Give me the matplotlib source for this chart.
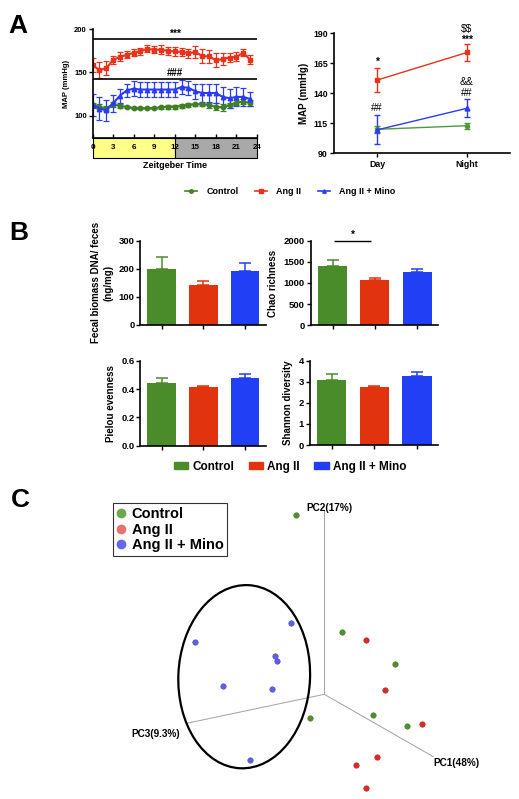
import matplotlib
matplotlib.use('Agg')
import matplotlib.pyplot as plt
from matplotlib.patches import Rectangle, Ellipse, Patch
from matplotlib.lines import Line2D
from matplotlib.transforms import blended_transform_factory

plt.rcParams['font.family'] = ['Liberation Sans', 'DejaVu Sans']
plt.rcParams['font.weight'] = 'bold'
plt.rcParams['axes.labelweight'] = 'bold'
plt.rcParams['axes.linewidth'] = 1.2

# colours
GREEN = '#3f7f25'
RED = '#e8321a'
BLUE = '#2a3cf5'
BAR_GREEN = '#4a8c2a'
BAR_RED = '#e2330f'
BAR_BLUE = '#2140f6'

groups = ['Control', 'Ang II', 'Ang II + Mino']

# ---- panel A, 24 h telemetry ----
hours = list(range(24))
ctrl_ts = [112, 110, 108, 113, 111, 110, 108.5, 108.5, 108.5, 108.5, 109.5, 110,
           110, 111, 112, 113, 113, 112, 110, 109.5, 112, 115, 116, 114.5]
ctrl_ts_err = [3, 3, 3, 3, 2, 1.5, 1.5, 1.5, 1.5, 1.5, 2, 2, 2, 2, 2, 2, 2, 3, 4, 4, 3, 3, 3, 3]
ang_ts = [158.5, 152.5, 154.7, 164, 168, 170, 172.5, 174.3, 177, 176, 176, 174.7,
          174, 173.6, 171.7, 173.6, 168.7, 168.3, 164, 165, 167, 168, 172.5, 164.5]
ang_ts_err = [8, 9, 8, 5, 5, 4, 4, 4, 4, 4, 5, 5, 5, 5, 5, 7, 8, 8, 8, 7, 5, 5, 4, 5]
mino_ts = [112, 108, 106, 114, 123, 129, 131, 130, 130, 130, 130, 130,
           130, 133, 132, 128, 126, 126, 126, 121.5, 120, 121.5, 121.5, 119]
mino_ts_err = [13, 13, 12, 10, 8, 8, 9, 9, 9, 9, 9, 9, 9, 8, 8, 9, 10, 10, 11, 12, 11, 11, 10, 8]

# ---- panel A, day / night ----
periods = ['Day', 'Night']
ctrl_dn = [110, 113]
ctrl_dn_err = [3, 2.5]
ang_dn = [151, 174]
ang_dn_err = [10, 7]
mino_dn = [109.5, 127.5]
mino_dn_err = [12, 7.5]

# ---- panel B ----
biomass = [200, 142, 190]
biomass_err = [40, 15, 29]
chao = [1410, 1070, 1270]
chao_err = [130, 40, 50]
pielou = [0.447, 0.415, 0.483]
pielou_err = [0.035, 0.006, 0.025]
shannon = [3.1, 2.77, 3.29]
shannon_err = [0.28, 0.04, 0.19]

# ---- panel C, PCoA points projected on the page ----
pc_ctrl_x = [-28.6, 18, 70.4, 48.7, 82.4, -14.3]
pc_ctrl_y = [179, 62, 30.6, -20.4, -31.4, -23.4]
pc_ang_x = [41.4, 60.7, 97.4, 52.4, 31.4, 41.4]
pc_ang_y = [54, 4.3, -29.7, -62.4, -71, -94]
pc_mino_x = [-33, -129.6, -49.3, -47.6, -101, -52.3, -74.3]
pc_mino_y = [71.6, 52.6, 38.6, 33.3, 8.3, 5.3, -65.7]
pc_axes_end = {'PC1(48%)': (109, -62.4), 'PC2(17%)': (0, 184.3), 'PC3(9.3%)': (-137.6, -29)}

W, H = 519, 799
fig = plt.figure(figsize=(W / 100, H / 100), dpi=100)


def px_axes(l, t, r, b):
    return fig.add_axes([l / W, 1 - b / H, (r - l) / W, (b - t) / H])


def clean(ax):
    ax.spines['top'].set_visible(False)
    ax.spines['right'].set_visible(False)


# A left: time course
ax = px_axes(92.5, 29, 257, 138)
clean(ax)
for y, e, c, m in [(ctrl_ts, ctrl_ts_err, GREEN, 'o'), (ang_ts, ang_ts_err, RED, 's'),
                   (mino_ts, mino_ts_err, BLUE, '^')]:
    ax.errorbar(hours, y, yerr=e, color=c, marker=m, ms=3.2, lw=1.5,
                elinewidth=0.9, capsize=2, capthick=0.9)
ax.hlines([188, 142.5], 0, 24, color='k', lw=1.2)
ax.text(12, 189, '***', ha='center', va='bottom', fontsize=7.5)
ax.text(12, 143.5, '###', ha='center', va='bottom', fontsize=7)
ax.set_xlim(0, 24)
ax.set_ylim(74, 200)
ax.set_yticks([100, 150, 200])
ax.set_xticks(range(0, 25, 3))
ax.tick_params(axis='y', labelsize=5.5, length=3, width=1, pad=1)
ax.tick_params(axis='x', labelsize=5.8, direction='in', length=3, width=1, pad=4)
ax.set_ylabel('MAP (mmHg)', fontsize=5.5, labelpad=3)
trans = blended_transform_factory(ax.transData, ax.transAxes)
bar_h = 20 / 109
ax.add_patch(Rectangle((0, -bar_h), 12, bar_h, transform=trans, fc='#ffff88',
                       ec='k', lw=0.8, clip_on=False, zorder=0.5))
ax.add_patch(Rectangle((12, -bar_h), 12, bar_h, transform=trans, fc='#a9a9a9',
                       ec='k', lw=0.8, clip_on=False, zorder=0.5))
ax.text(0.5, -0.21, 'Zeitgeber Time', transform=ax.transAxes, ha='center',
        va='top', fontsize=6.5)

# A right: day / night
ax = px_axes(334, 33.3, 510, 153.3)
clean(ax)
xs = [0, 1]
ax.errorbar(xs, ctrl_dn, yerr=ctrl_dn_err, color='#4c9a3c', marker='o', ms=3,
            lw=1, capsize=2.5)
ax.errorbar(xs, ang_dn, yerr=ang_dn_err, color=RED, marker='s', ms=3.5,
            lw=1, capsize=2.5)
ax.errorbar(xs, mino_dn, yerr=mino_dn_err, color=BLUE, marker='^', ms=3.5,
            lw=1, capsize=2.5)
ax.text(0, 166, '*', ha='center', va='center', fontsize=7.5)
ax.text(0, 127.5, '##', ha='center', va='center', fontsize=7.5, fontweight='normal')
ax.text(1, 184.4, '***', ha='center', va='center', fontsize=7.5)
ax.text(1, 193.3, r'\$\$', ha='center', va='center', fontsize=7.5, fontweight='normal')
ax.text(1, 149.7, '&&', ha='center', va='center', fontsize=7.5, fontweight='normal')
ax.text(1, 140.5, '##', ha='center', va='center', fontsize=7.5, fontweight='normal')
ax.set_xlim(-0.48, 1.48)
ax.set_ylim(90, 190)
ax.set_yticks([90, 115, 140, 165, 190])
ax.set_xticks(xs)
ax.set_xticklabels(periods)
ax.tick_params(labelsize=6.3, length=3, width=1, pad=1.5)
ax.set_ylabel('MAP (mmHg)', fontsize=7, labelpad=3)

handles_a = [Line2D([], [], color=GREEN, marker='o', ms=2.5, lw=1.2),
             Line2D([], [], color=RED, marker='s', ms=2.5, lw=1.2),
             Line2D([], [], color=BLUE, marker='^', ms=2.5, lw=1.2)]
fig.legend(handles_a, groups, loc='center', bbox_to_anchor=(290 / W, 1 - 192 / H),
           ncol=3, frameon=False, fontsize=6.5, handlelength=1.4,
           handletextpad=1.0, columnspacing=1.8)

# B: bar charts
bar_specs = [
    ((140, 240.7, 265.7, 324.7), biomass, biomass_err, (0, 300), [0, 100, 200, 300],
     'Fecal biomass DNA/ feces\n(ng/mg)', None),
    ((310.5, 240.7, 438.3, 325.3), chao, chao_err, (0, 2000), [0, 500, 1000, 1500, 2000],
     'Chao richness', None),
    ((140, 361, 265.7, 445.7), pielou, pielou_err, (0, 0.6), [0.0, 0.2, 0.4, 0.6],
     'Pielou evenness', '%.1f'),
    ((309.5, 360.7, 438.3, 445), shannon, shannon_err, (0, 4), [0, 1, 2, 3, 4],
     'Shannon diversity', None),
]
bar_cols = [BAR_GREEN, BAR_RED, BAR_BLUE]
b_axes = []
for box, vals, errs, ylim, yt, ylab, fmt in bar_specs:
    ax = px_axes(*box)
    clean(ax)
    bx = range(len(vals))
    ax.bar(bx, vals, width=0.69, color=bar_cols)
    for xi, v, e, c in zip(bx, vals, errs, bar_cols):
        ax.errorbar(xi, v, yerr=[[0], [e]], color=c, capsize=4.5, elinewidth=1.1,
                    capthick=1.1)
    ax.set_xlim(-0.52, 2.5)
    ax.set_ylim(*ylim)
    ax.set_yticks(yt)
    if fmt:
        ax.set_yticklabels([fmt % t for t in yt])
    ax.set_xticks(list(bx))
    ax.set_xticklabels([])
    ax.tick_params(labelsize=6.8, length=3, width=1, pad=1)
    ax.set_ylabel(ylab, fontsize=7, labelpad=4, linespacing=1.2)
    b_axes.append(ax)
# significance on Chao
b_axes[1].hlines(2000, 0.04, 0.92, color='k', lw=1, clip_on=False)
b_axes[1].text(0.48, 2030, '*', ha='center', va='bottom', fontsize=7)

handles_b = [Patch(color=c) for c in bar_cols]
fig.legend(handles_b, groups, loc='center', bbox_to_anchor=(290 / W, 1 - 466.7 / H),
           ncol=3, frameon=False, fontsize=8.5, handlelength=1.2, handleheight=0.6,
           handletextpad=0.35, columnspacing=1.25)

# C: 3D PCoA drawn as projected view
ax = fig.add_axes([0, 0, 1, 320 / H])
ax.set_xlim(-324.3, W - 324.3)
ax.set_ylim(694.3 - 799, 694.3 - 479)
ax.axis('off')
for name, (ex, ey) in pc_axes_end.items():
    ax.plot([0, ex], [0, ey], color='#a0a0a0', lw=0.7, zorder=1)
ax.text(-17.6, 186.3, 'PC2(17%)', ha='left', va='center', fontsize=7.2)
ax.text(108.7, -68.7, 'PC1(48%)', ha='left', va='center', fontsize=7.2)
ax.text(-144.3, -40, 'PC3(9.3%)', ha='right', va='center', fontsize=7.2)
ax.add_patch(Ellipse((-80.1, 17.6), 131.7, 183.3, angle=-2.5, fill=False,
                     ec='k', lw=1.6, zorder=2))
ax.scatter(pc_ctrl_x, pc_ctrl_y, s=16, color='#4f8f30', edgecolors='#3a6a22',
           linewidths=0.3, zorder=3)
ax.scatter(pc_ang_x, pc_ang_y, s=16, color='#d92a2a', edgecolors='#a01f1f',
           linewidths=0.3, zorder=3)
ax.scatter(pc_mino_x, pc_mino_y, s=16, color='#5f5fe6', edgecolors='#3c3cb0',
           linewidths=0.3, zorder=3)

handles_c = [Line2D([], [], ls='', marker='o', ms=6, color=c)
             for c in ['#6aaa4a', '#ea7070', '#6666ee']]
leg = fig.legend(handles_c, groups, loc='upper left',
                 bbox_to_anchor=(112.7 / W, 1 - 503.3 / H), frameon=True,
                 fancybox=False, edgecolor='k', fontsize=10.5, handlelength=0.6,
                 handletextpad=0.45, labelspacing=0.12, borderpad=0.25,
                 borderaxespad=0)
leg.get_frame().set_linewidth(0.8)

# panel letters
fig.text(8 / W, 1 - 33 / H, 'A', fontsize=19, va='baseline')
fig.text(9 / W, 1 - 240 / H, 'B', fontsize=19, va='baseline')
fig.text(11 / W, 1 - 506.7 / H, 'C', fontsize=19, va='baseline')

fig.savefig('out.png', dpi=100)
